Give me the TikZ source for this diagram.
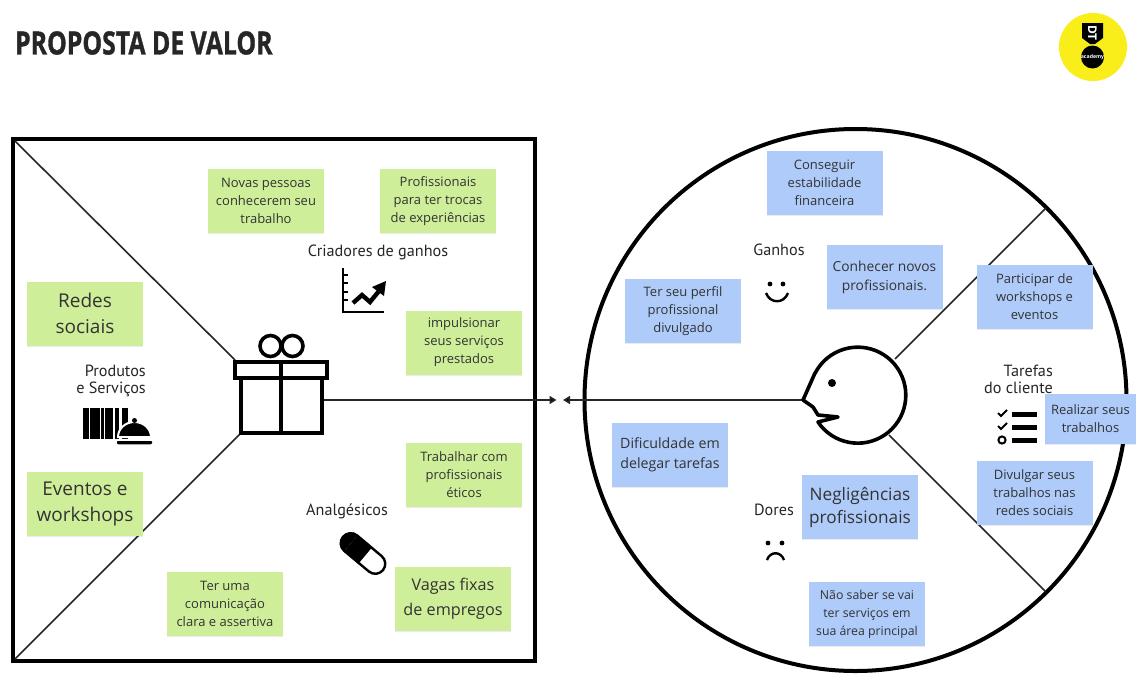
\documentclass[tikz,border=0pt]{standalone}
\usepackage{fontspec}
\setmainfont{Open Sans}
\newfontfamily\lblfont{PT Sans}
\newfontfamily\ttlfont[FakeBold=1.2]{Open Sans}
\usetikzlibrary{arrows.meta,shadows}
\definecolor{notegreen}{HTML}{CFEE9A}
\definecolor{noteblue}{HTML}{AECBFA}
\definecolor{inkdark}{HTML}{333333}
\definecolor{logoyellow}{HTML}{F9ED1A}
\tikzset{
  note/.style={minimum width=116pt,minimum height=64pt,inner sep=0pt,align=center,text=inkdark,
    font=\fontsize{13}{18}\selectfont,
    general shadow={fill=black,opacity=.08,shadow xshift=0pt,shadow yshift=-1pt}},
  gnote/.style={note,fill=notegreen},
  bnote/.style={note,fill=noteblue},
  bignote/.style={font=\fontsize{19}{26}\selectfont},
  midnote/.style={font=\fontsize{16.2}{25}\selectfont},
  lbl/.style={font=\lblfont\fontsize{16.2}{17}\selectfont,text=black!85,inner sep=0pt,align=center},
  rlbl/.style={lbl,align=right},
  frame/.style={line width=4pt,draw=black},
  thinline/.style={line width=1.6pt,draw=black!85},
  icon/.style={line width=3.6pt,draw=black},
  tip/.style={-{Triangle[length=7pt,width=8pt,fill=black]}}
}
\begin{document}
\begin{tikzpicture}[x=1pt,y=-1pt]
\useasboundingbox (0,0) rectangle (1148,683);
\fill[white] (0,0) rectangle (1148,683);
% title
\node[anchor=west,inner sep=0pt,font=\ttlfont\bfseries\fontsize{32}{34}\selectfont,text=black!85,xscale=.775,transform shape] (title) at (15,43) {PROPOSTA DE VALOR};
% logo
\fill[logoyellow] (1093,47) circle (34);
\fill[black] (1082,23) -- (1103,23) -- (1103,38) -- (1095,44) -- (1090,44) -- (1082,38) -- cycle;
\fill[black] (1092.5,57) circle (11.5);
\node[font=\bfseries\fontsize{5.2}{6}\selectfont,text=white,inner sep=0pt] (logotxt) at (1092.5,57) {academy};
\node[font=\bfseries\fontsize{12}{12}\selectfont,text=white,inner sep=0pt,rotate=-90] (logodt) at (1092.5,33) {DT};
% left square
\node[frame,minimum width=522pt,minimum height=522pt,inner sep=0pt] (sq) at (274,400) {};
\coordinate (sqtl) at (15,141);
\coordinate (sqbl) at (15,659);
\coordinate (gifttl) at (235,360);
\coordinate (giftbl) at (241,433);
\draw[thinline] (sqtl) -- (gifttl);
\draw[thinline] (sqbl) -- (giftbl);
% big circle
\draw[line width=4pt] (855.5,400) circle (271);
% connectors
\coordinate (giftr) at (323,400);
\coordinate (faceL) at (803,400);
\coordinate (midL) at (556.5,400);
\coordinate (midR) at (563,400);
\draw[thinline,tip] (giftr) -- (midL);
\draw[thinline,tip] (faceL) -- (midR);
\coordinate (faceUp) at (895,359);
\coordinate (rimUp) at (1046,208);
\coordinate (faceDn) at (889,435);
\coordinate (rimDn) at (1045,591);
\draw[thinline] (faceUp) -- (rimUp);
\draw[thinline] (faceDn) -- (rimDn);
% gift
\begin{scope}[icon]
\draw (270.5,346) circle (10.5);
\draw (292.5,346) circle (10.5);
\fill[white] (241,378) rectangle (322,433);
\fill[white] (235,362) rectangle (327,378);
\draw (235,362) rectangle (327,378);
\draw (241,378) rectangle (322,433);
\draw (281,362) -- (281,433);
\end{scope}
% face
\draw[line width=3.6pt,line join=round,fill=white]
  (815,373) -- (803,400) -- (813,407) -- (818,415) -- (838,417) -- (818,422)
  arc[start angle=146,end angle=-153,radius=48] -- cycle;
\fill (832,383) circle (4);
% chart
\draw[line width=2.6pt] (343,268) -- (343,312) -- (384,312);
\foreach \yy in {275,283,292,300} \draw[line width=2.2pt] (343,\yy) -- (348,\yy);
\draw[line width=4.4pt] (353,303) -- (362,295) -- (370,302) -- (379,291);
\fill (386,281) -- (384,296) -- (372,287) -- cycle;
% barcode
\foreach \xa/\xb in {83/88.5,89.5/100,101/104,105/113,115/118.5,121.5/127.6}
  \fill (\xa,408) rectangle (\xb,439);
% cloche
\draw[line width=2pt,draw=white,fill=black] (118,437) arc[start angle=180,end angle=360,x radius=16.5,y radius=15] -- cycle;
\fill (134.5,420.5) circle (2.5);
\draw[line width=1.5pt,draw=white,fill=black,rounded corners=2pt] (116,440) rectangle (153,445);
% pill
\begin{scope}[shift={(363,553.5)},rotate=-40]
\fill (-16,-11) rectangle (3,11);
\fill (-16,-11) arc[start angle=270,end angle=90,radius=11] -- cycle;
\draw[line width=2.4pt] (-16,-10) arc[start angle=270,end angle=90,radius=10] -- (16,10) arc[start angle=90,end angle=-90,radius=10] -- cycle;
\end{scope}
% smile
\fill (770,284) circle (2.4);
\fill (783,284) circle (2.4);
\draw[line width=2.4pt] (766,293) .. controls (770,304) and (784,304) .. (788,293);
% frown
\fill (768,543) circle (2.4);
\fill (782,543) circle (2.4);
\draw[line width=2.4pt] (767,560) .. controls (770,551) and (781,551) .. (784,560);
% checklist
\draw[line width=2pt] (998,413) -- (1001,416) -- (1007,410);
\draw[line width=2pt] (998,426) -- (1001,429) -- (1007,423);
\draw[line width=2pt] (1002,440) circle (3.6);
\foreach \yy in {414.7,427.3,440} \draw[line width=5pt] (1012,\yy) -- (1037,\yy);
% labels
\node[lbl] (lcri) at (378,252) {Criadores de ganhos};
\node[rlbl,anchor=east] (lpro) at (146,381) {Produtos\\e Serviços};
\node[lbl] (lana) at (347,511.5) {Analgésicos};
\node[lbl] (lgan) at (779,250) {Ganhos};
\node[lbl] (ldor) at (774,510) {Dores};
\node[rlbl,anchor=east] (ltar) at (1053,379.5) {Tarefas\\do cliente};
% green notes
\node[gnote] (g1) at (266,201) {Novas pessoas\\conhecerem seu\\trabalho};
\node[gnote] (g2) at (438,201) {Profissionais\\para ter trocas\\de experiências};
\node[gnote] (g3) at (464,342.5) {impulsionar\\seus serviços\\prestados};
\node[gnote] (g4) at (464,475) {Trabalhar com\\profissionais\\éticos};
\node[gnote,midnote] (g5) at (453,598.5) {Vagas fixas\\de empregos};
\node[gnote] (g6) at (225,604) {Ter uma\\comunicação\\clara e assertiva};
\node[gnote,bignote] (g7) at (85,313.5) {Redes\\sociais};
\node[gnote,bignote] (g8) at (85,503.5) {Eventos e\\workshops};
% blue notes
\node[bnote] (b1) at (824.5,183) {Conseguir\\estabilidade\\financeira};
\node[bnote,font=\fontsize{13.8}{19}\selectfont] (b2) at (884.5,277) {Conhecer novos\\profissionais.};
\node[bnote] (b3) at (683,311) {Ter seu perfil\\profissional\\divulgado};
\node[bnote] (b4) at (1034.5,297) {Participar de\\workshops e\\eventos};
\node[bnote,minimum width=91pt,minimum height=50pt] (b5) at (1090.5,419) {Realizar seus\\trabalhos};
\node[bnote] (b6) at (1034.5,493) {Divulgar seus\\trabalhos nas\\redes sociais};
\node[bnote,font=\fontsize{14.2}{20}\selectfont] (b7) at (670,455) {Dificuldade em\\delegar tarefas};
\node[bnote,font=\fontsize{17.2}{23}\selectfont] (b8) at (860,507) {Negligências\\profissionais};
\node[bnote,font=\fontsize{12.3}{18}\selectfont] (b9) at (867,614) {Não saber se vai\\ter serviços em\\sua área principal};
\end{tikzpicture}
\end{document}
